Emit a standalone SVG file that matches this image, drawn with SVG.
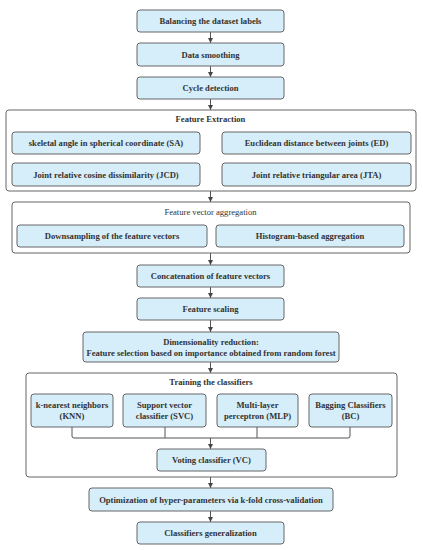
<svg xmlns="http://www.w3.org/2000/svg" width="423" height="550" viewBox="0 0 423 550">
<defs>
<style>
.n{fill:#d6eefa;stroke:#666;stroke-width:1}
.g{fill:none;stroke:#666;stroke-width:1}
text{font-family:"Liberation Serif","DejaVu Serif",serif;font-size:8.6px;font-weight:bold;fill:#333;text-anchor:middle}
.t{font-weight:normal}
.c{fill:none;stroke:#555;stroke-width:1}
</style>
<marker id="ah" viewBox="0 0 10 10" refX="10" refY="5" markerWidth="5" markerHeight="5" orient="auto"><path d="M0,0 L10,5 L0,10 z" fill="#444"/></marker>
</defs>
<rect width="423" height="550" fill="#fff"/>
<g id="connectors">
<line class="c" x1="210.5" y1="32" x2="210.5" y2="43" marker-end="url(#ah)"/>
<line class="c" x1="210.5" y1="66" x2="210.5" y2="77" marker-end="url(#ah)"/>
<line class="c" x1="210.5" y1="99" x2="210.5" y2="110" marker-end="url(#ah)"/>
<line class="c" x1="210.5" y1="191" x2="210.5" y2="202" marker-end="url(#ah)"/>
<line class="c" x1="210.5" y1="253" x2="210.5" y2="265" marker-end="url(#ah)"/>
<line class="c" x1="210.5" y1="287" x2="210.5" y2="298" marker-end="url(#ah)"/>
<line class="c" x1="210.5" y1="320" x2="210.5" y2="332" marker-end="url(#ah)"/>
<line class="c" x1="210.5" y1="362" x2="210.5" y2="373" marker-end="url(#ah)"/>
<path class="c" d="M72,427 V436 Q72,438 74,438 H348 Q350,438 350,436 V427 M165,427 V438 M257,427 V438"/>
<line class="c" x1="210.5" y1="438" x2="210.5" y2="449" marker-end="url(#ah)"/>
<line class="c" x1="210.5" y1="477" x2="210.5" y2="488" marker-end="url(#ah)"/>
<line class="c" x1="210.5" y1="511" x2="210.5" y2="522" marker-end="url(#ah)"/>
</g>
<g id="balancing"><rect class="n" x="137" y="10" width="147" height="22" rx="3"/><text x="210.5" y="24">Balancing the dataset labels</text></g>
<g id="smoothing"><rect class="n" x="137" y="43" width="147" height="23" rx="3"/><text x="210.5" y="57.5">Data smoothing</text></g>
<g id="cycle"><rect class="n" x="137" y="77" width="147" height="22" rx="3"/><text x="210.5" y="91">Cycle detection</text></g>
<g id="feature-extraction"><rect class="g" x="6" y="110" width="410" height="81" rx="3"/><text x="210.5" y="121.5">Feature Extraction</text></g>
<g id="sa"><rect class="n" x="12" y="132" width="188" height="22" rx="3"/><text x="106" y="146">skeletal angle in spherical coordinate (SA)</text></g>
<g id="ed"><rect class="n" x="222" y="132" width="189" height="22" rx="3"/><text x="316.5" y="146">Euclidean distance between joints (ED)</text></g>
<g id="jcd"><rect class="n" x="12" y="163" width="188" height="23" rx="3"/><text x="106" y="177.5">Joint relative cosine dissimilarity (JCD)</text></g>
<g id="jta"><rect class="n" x="222" y="163" width="189" height="23" rx="3"/><text x="316.5" y="177.5">Joint relative triangular area (JTA)</text></g>
<g id="aggregation"><rect class="g" x="12" y="202" width="398" height="51" rx="3"/><text class="t" x="210.5" y="214.5">Feature vector aggregation</text></g>
<g id="downsampling"><rect class="n" x="17" y="225" width="190" height="22" rx="3"/><text x="112" y="239">Downsampling of the feature vectors</text></g>
<g id="histogram"><rect class="n" x="216" y="225" width="188" height="22" rx="3"/><text x="310" y="239">Histogram-based aggregation</text></g>
<g id="concatenation"><rect class="n" x="137" y="265" width="147" height="22" rx="3"/><text x="210.5" y="279">Concatenation of feature vectors</text></g>
<g id="scaling"><rect class="n" x="137" y="298" width="147" height="22" rx="3"/><text x="210.5" y="312">Feature scaling</text></g>
<g id="dimred"><rect class="n" x="83" y="332" width="256" height="30" rx="3"/><text x="211" y="344.5">Dimensionality reduction:</text><text x="211" y="355.5">Feature selection based on importance obtained from random forest</text></g>
<g id="training"><rect class="g" x="26" y="373" width="371" height="104" rx="3"/><text x="211" y="384.5">Training the classifiers</text></g>
<g id="knn"><rect class="n" x="31" y="394" width="82" height="33" rx="3"/><text x="72" y="408">k-nearest neighbors</text><text x="72" y="419">(KNN)</text></g>
<g id="svc"><rect class="n" x="123" y="394" width="83" height="33" rx="3"/><text x="164.5" y="408">Support vector</text><text x="164.5" y="419">classifier (SVC)</text></g>
<g id="mlp"><rect class="n" x="217" y="394" width="81" height="33" rx="3"/><text x="257.5" y="408">Multi-layer</text><text x="257.5" y="419">perceptron (MLP)</text></g>
<g id="bc"><rect class="n" x="309" y="394" width="83" height="33" rx="3"/><text x="350.5" y="408">Bagging Classifiers</text><text x="350.5" y="419">(BC)</text></g>
<g id="voting"><rect class="n" x="157" y="449" width="109" height="22" rx="3"/><text x="211.5" y="463">Voting classifier (VC)</text></g>
<g id="optimization"><rect class="n" x="89" y="488" width="244" height="23" rx="3"/><text x="211" y="502.5">Optimization of hyper-parameters via k-fold cross-validation</text></g>
<g id="generalization"><rect class="n" x="137" y="522" width="147" height="22" rx="3"/><text x="210.5" y="536">Classifiers generalization</text></g>
</svg>
